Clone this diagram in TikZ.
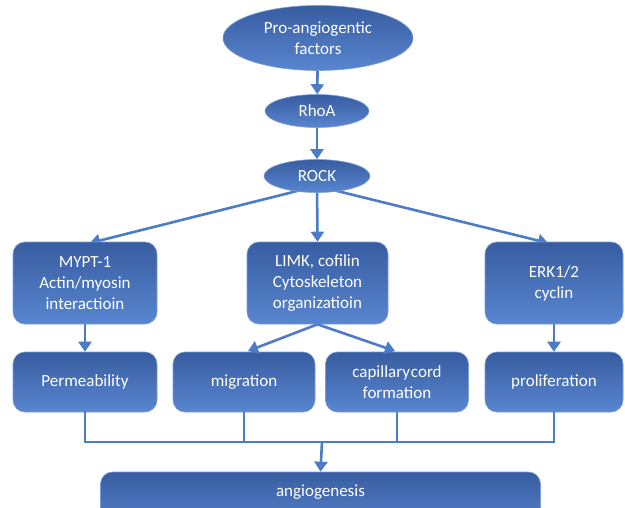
\documentclass[tikz,border=0pt]{standalone}
\usepackage{fontspec}
\setmainfont{Carlito}
\usetikzlibrary{shapes.geometric,arrows.meta,calc,backgrounds}
\definecolor{topblue}{RGB}{56,92,160}
\definecolor{botblue}{RGB}{88,134,208}
\definecolor{linkblue}{RGB}{76,124,198}
\tikzset{
  txt/.style={text=white,font=\fontsize{17}{21}\selectfont,align=center,inner sep=0pt},
  ovalbox/.style={ellipse,txt,top color=topblue,bottom color=botblue,draw=botblue!80!white,line width=0.6pt},
  rbox/.style={rectangle,rounded corners=12pt,txt,top color=topblue,bottom color=botblue,draw=botblue!80!white,line width=0.6pt},
  link/.style={draw=linkblue,line width=2.6pt},
  arr/.style={link,-{Triangle[length=10pt,width=13pt]}}
}
\begin{document}
\begin{tikzpicture}[x=1pt,y=-1pt]
\clip (0,0) rectangle (625,507);
\useasboundingbox (0,0) rectangle (625,507);
% ellipses
\node[ovalbox,minimum width=190pt,minimum height=65pt] (pro) at (318,38) {Pro-angiogentic\\factors};
\node[ovalbox,minimum width=104pt,minimum height=33pt] (rhoa) at (317,111) {RhoA};
\node[ovalbox,minimum width=106pt,minimum height=33pt] (rock) at (317,176) {ROCK};
% row 1
\node[rbox,minimum width=144pt,minimum height=82pt] (mypt) at (85,283) {MYPT-1\\Actin/myosin\\interactioin};
\node[rbox,minimum width=141pt,minimum height=82pt] (limk) at (317.5,283) {LIMK, cofilin\\Cytoskeleton\\organizatioin};
\node[rbox,minimum width=138pt,minimum height=82pt] (erk) at (554,283) {ERK1/2\\cyclin};
% row 2
\node[rbox,minimum width=144pt,minimum height=60pt] (perm) at (85,382) {Permeability};
\node[rbox,minimum width=142pt,minimum height=60pt] (mig) at (244,382) {migration};
\node[rbox,minimum width=143pt,minimum height=60pt] (cap) at (397,382) {capillary\hspace{1pt}cord\\formation};
\node[rbox,minimum width=138pt,minimum height=60pt] (prol) at (554,382) {proliferation};
% bottom
\node[rbox,minimum width=440pt,minimum height=60pt] (angio) at (320.5,502) {};
\node[txt] (angiotxt) at (320.5,492) {angiogenesis};
\coordinate (j) at (322,442);
\coordinate (rs) at ($(rock.center)+(0,10)$);
\begin{scope}[on background layer]
\fill[white] (0,0) rectangle (625,507);
\draw[arr] (rs) -- (90,243);
\draw[arr] (rs) -- (limk.north);
\draw[arr] (rs) -- (548,243);
\end{scope}
\draw[arr] (pro) -- (rhoa);
\draw[arr] (rhoa) -- (rock);
\draw[arr] (mypt) -- (perm);
\draw[arr] (erk) -- (prol);
\draw[arr] (limk.south) -- (248,351);
\draw[arr] (limk.south) -- (395,351);
\draw[link,line cap=rect] (perm.south) -- (perm.south |- j) -- (prol.south |- j) -- (prol.south);
\draw[link] (mig.south) -- (mig.south |- j);
\draw[link] (cap.south) -- (cap.south |- j);
\draw[arr] (j) -- (angio.north);
\end{tikzpicture}
\end{document}
